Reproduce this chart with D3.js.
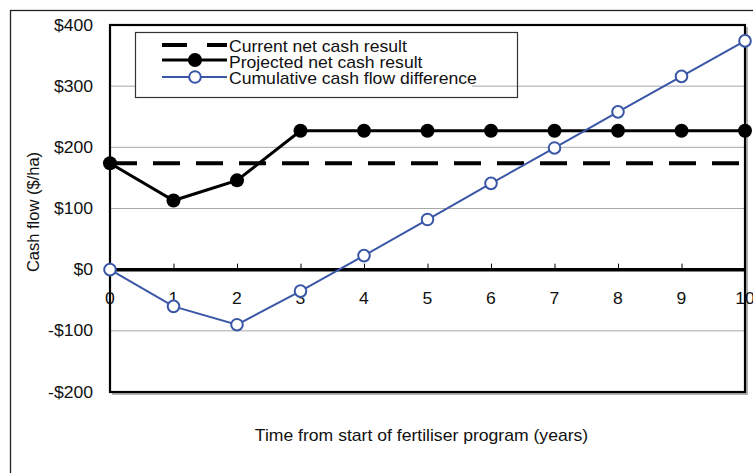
<!DOCTYPE html>
<html>
<head>
<meta charset="utf-8">
<script src="https://cdn.jsdelivr.net/npm/d3@7"></script>
<style>
  html, body { margin: 0; padding: 0; background: #fff; }
  svg { display: block; font-family: "Liberation Sans", Arial, sans-serif; }
</style>
</head>
<body>
<svg id="chart" width="753" height="473"></svg>
<script>
// ---- data ----
const years = [0, 1, 2, 3, 4, 5, 6, 7, 8, 9, 10];
const currentNet = [174, 174, 174, 174, 174, 174, 174, 174, 174, 174, 174];
const projectedNet = [174, 113, 146, 227, 227, 227, 227, 227, 227, 227, 227];
const cumulativeDiff = [0, -60, -90, -35, 23, 82, 141, 199, 258, 316, 374];
const yTicks = [-200, -100, 0, 100, 200, 300, 400];
const xTicks = [0, 1, 2, 3, 4, 5, 6, 7, 8, 9, 10];
const seriesNames = ["Current net cash result", "Projected net cash result", "Cumulative cash flow difference"];
const yTitle = "Cash flow ($/ha)";
const xTitle = "Time from start of fertiliser program (years)";

// ---- layout ----
const svg = d3.select("#chart");
const L = 110, T = 25, R = 745, B = 392;
const x = d3.scaleLinear().domain([0, 10]).range([L, R]);
const y = d3.scaleLinear().domain([-200, 400]).range([B, T]);
const blue = "#3a57a7";
const FS = 16, SX = 1.1;
const fmt = d => (d < 0 ? "-$" : "$") + Math.abs(d);

function label(g, tx, ty, str, anchor) {
  return g.append("text")
    .attr("transform", `translate(${tx},${ty}) scale(${SX},1)`)
    .attr("text-anchor", anchor)
    .attr("font-size", FS)
    .attr("fill", "#111")
    .text(str);
}

// outer chart border
svg.append("rect").attr("x", 10.5).attr("y", 10.5).attr("width", 800).attr("height", 500)
  .attr("fill", "none").attr("stroke", "#222").attr("stroke-width", 1.3);

// gridlines
svg.append("g").selectAll("line").data(yTicks.filter(d => d !== 0 && d !== 400 && d !== -200))
  .join("line")
  .attr("x1", L).attr("x2", R).attr("y1", d => y(d)).attr("y2", d => y(d))
  .attr("stroke", "#a8a8a8").attr("stroke-width", 1);

// plot border with slight shadow
svg.append("path").attr("d", `M${L + 2},${B + 2}H${R + 2}V${T + 2}`)
  .attr("fill", "none").attr("stroke", "#999").attr("stroke-width", 1.5);
svg.append("rect").attr("x", L).attr("y", T).attr("width", R - L).attr("height", B - T)
  .attr("fill", "none").attr("stroke", "#000").attr("stroke-width", 2.2);

// y axis labels
const gy = svg.append("g");
yTicks.forEach(t => label(gy, 93, y(t) + 5.5, fmt(t), "end"));

// zero axis with ticks
const xAxis = d3.axisBottom(x).tickValues(xTicks).tickSizeInner(-6).tickSizeOuter(0).tickFormat("");
const gx = svg.append("g").attr("transform", `translate(0,${y(0)})`).call(xAxis);
gx.select(".domain").remove();
gx.selectAll(".tick line").attr("stroke", "#000").attr("stroke-width", 1);
svg.append("line").attr("x1", L).attr("x2", R).attr("y1", y(0)).attr("y2", y(0))
  .attr("stroke", "#000").attr("stroke-width", 3.5);
const gxl = svg.append("g");
xTicks.forEach(t => label(gxl, x(t), y(0) + 34, String(t), "middle"));

// titles
label(svg, (L + R) / 2 - 6, 441, xTitle, "middle");
svg.append("text")
  .attr("transform", `translate(39,212) rotate(-90)`)
  .attr("text-anchor", "middle").attr("font-size", 16.5).attr("fill", "#111")
  .text(yTitle);

// current (dashed)
const line = d3.line().x((d, i) => x(years[i])).y(d => y(d));
svg.append("path").datum(currentNet).attr("d", line)
  .attr("fill", "none").attr("stroke", "#000").attr("stroke-width", 4)
  .attr("stroke-dasharray", "27,16");

// projected
svg.append("path").datum(projectedNet).attr("d", line)
  .attr("fill", "none").attr("stroke", "#000").attr("stroke-width", 3);
svg.append("g").selectAll("circle").data(projectedNet).join("circle")
  .attr("cx", (d, i) => x(years[i])).attr("cy", d => y(d)).attr("r", 7).attr("fill", "#000");

// cumulative
svg.append("path").datum(cumulativeDiff).attr("d", line)
  .attr("fill", "none").attr("stroke", blue).attr("stroke-width", 2);
svg.append("g").selectAll("circle").data(cumulativeDiff).join("circle")
  .attr("cx", (d, i) => x(years[i])).attr("cy", d => y(d)).attr("r", 5.8)
  .attr("fill", "#fff").attr("stroke", blue).attr("stroke-width", 2);

// legend
const lg = svg.append("g");
lg.append("rect").attr("x", 136).attr("y", 33).attr("width", 336).attr("height", 64).attr("fill", "#fff");
lg.append("rect").attr("x", 135.5).attr("y", 32.5).attr("width", 382).attr("height", 65)
  .attr("fill", "none").attr("stroke", "#333").attr("stroke-width", 1.2);
const rowsY = [45, 60, 77];
const baseY = [52, 68, 84];
lg.append("line").attr("x1", 162).attr("x2", 227).attr("y1", rowsY[0]).attr("y2", rowsY[0])
  .attr("stroke", "#000").attr("stroke-width", 4).attr("stroke-dasharray", "25,20");
lg.append("line").attr("x1", 162).attr("x2", 227).attr("y1", rowsY[1]).attr("y2", rowsY[1])
  .attr("stroke", "#000").attr("stroke-width", 3);
lg.append("circle").attr("cx", 195).attr("cy", rowsY[1]).attr("r", 7).attr("fill", "#000");
lg.append("line").attr("x1", 162).attr("x2", 227).attr("y1", rowsY[2]).attr("y2", rowsY[2])
  .attr("stroke", blue).attr("stroke-width", 2);
lg.append("circle").attr("cx", 195).attr("cy", rowsY[2]).attr("r", 5.8)
  .attr("fill", "#fff").attr("stroke", blue).attr("stroke-width", 2);
seriesNames.forEach((n, i) => label(lg, 229, baseY[i], n, "start"));
</script>
</body>
</html>
